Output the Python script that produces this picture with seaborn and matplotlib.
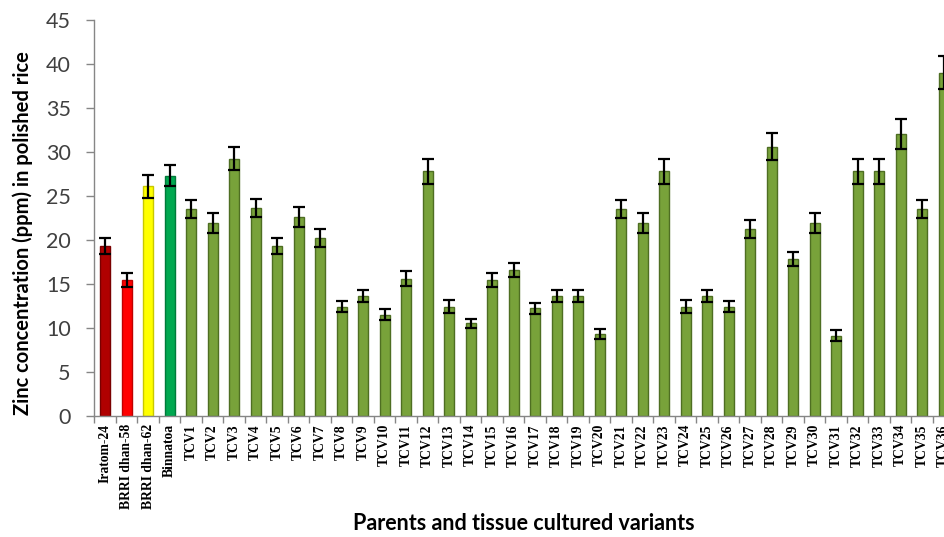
import numpy as np
import pandas as pd
import matplotlib
matplotlib.use("Agg")
import matplotlib.pyplot as plt
import seaborn as sns
from matplotlib.ticker import FixedLocator, MultipleLocator

# Parent varieties and tissue-cultured variants
parents = ["Iratom-24", "BRRI dhan-58", "BRRI dhan-62", "Binnatoa"]
variants = [f"TCV{i}" for i in range(1, 37)]
categories = parents + variants

# Mean zinc concentration (ppm) in polished rice
zinc_parents = [19.3, 15.4, 26.1, 27.3]
zinc_variants = [
    23.5, 21.9, 29.2, 23.6, 19.3, 22.6, 20.2, 12.4, 13.6, 11.5,
    15.6, 27.8, 12.4, 10.5, 15.4, 16.6, 12.2, 13.6, 13.6, 9.3,
    23.5, 21.9, 27.8, 12.4, 13.6, 12.4, 21.2, 30.6, 17.8, 21.9,
    9.1, 27.8, 27.8, 32.0, 23.5, 39.0,
]
# Standard error of each mean
err_parents = [0.9, 0.8, 1.3, 1.2]
err_variants = [
    1.0, 1.1, 1.3, 1.0, 0.9, 1.1, 1.0, 0.6, 0.7, 0.6,
    0.9, 1.4, 0.7, 0.5, 0.8, 0.8, 0.6, 0.7, 0.7, 0.55,
    1.0, 1.1, 1.4, 0.7, 0.7, 0.6, 1.05, 1.5, 0.8, 1.1,
    0.6, 1.4, 1.4, 1.7, 1.0, 1.9,
]

parent_colors = ["#B00000", "#FF0000", "#FFFF00", "#00A850"]
variant_color = "#78A23A"

df = pd.DataFrame({
    "variety": categories,
    "zinc": zinc_parents + zinc_variants,
    "err": err_parents + err_variants,
})
palette = dict(zip(categories, parent_colors + [variant_color] * len(variants)))

sns.set_theme(style="white")
plt.rcParams["font.family"] = ["Lato", "DejaVu Sans"]

fig = plt.figure(figsize=(9.45, 5.37), dpi=100)
ax = fig.add_axes([0.0998, 0.2259, 0.9101, 0.7369])

sns.barplot(data=df, x="variety", y="zinc", hue="variety", palette=palette,
            width=0.47, dodge=False, legend=False, ax=ax, saturation=1)

edge_colors = ["#7A0000", "#C00000", "#C8C800", "#007A3A"] + ["#4E6E22"] * len(variants)
for patch, ec in zip(ax.patches, edge_colors):
    patch.set_edgecolor(ec)
    patch.set_linewidth(1.0)

ax.errorbar(np.arange(len(categories)), df["zinc"], yerr=df["err"], fmt="none",
            ecolor="black", elinewidth=1.6, capsize=4.3, capthick=1.6, zorder=5)

ax.set_xlim(-0.5, len(categories) - 0.5)
ax.set_ylim(0, 45)
ax.yaxis.set_major_locator(MultipleLocator(5))

for side in ["top", "right"]:
    ax.spines[side].set_visible(False)
for side in ["left", "bottom"]:
    ax.spines[side].set_color("#868686")
    ax.spines[side].set_linewidth(1.0)

ax.tick_params(axis="y", which="major", left=True, length=6, width=1.0,
               color="#868686", pad=11, labelsize=15.5, labelcolor="#404040")
ax.tick_params(axis="x", which="major", bottom=False, length=0, pad=6)
ax.xaxis.set_minor_locator(FixedLocator(np.arange(-0.5, len(categories), 1.0)))
ax.tick_params(axis="x", which="minor", bottom=True, length=5, width=1.0,
               color="#868686")

ax.set_xticks(np.arange(len(categories)))
ax.set_xticklabels(categories, rotation=90, fontfamily="Liberation Serif",
                   fontweight="bold", fontsize=9.8, color="#000000")

ax.set_xlabel("")
ax.set_ylabel("")
fig.text(0.024, 0.566, "Zinc concentration (ppm) in polished rice", rotation=90,
         ha="center", va="center", fontsize=14.5, fontweight="bold", color="#000000")
fig.text(0.5545, 0.026, "Parents and tissue cultured variants", ha="center",
         va="center", fontsize=15.5, fontweight="bold", color="#000000")

fig.savefig("out.png", dpi=100)
